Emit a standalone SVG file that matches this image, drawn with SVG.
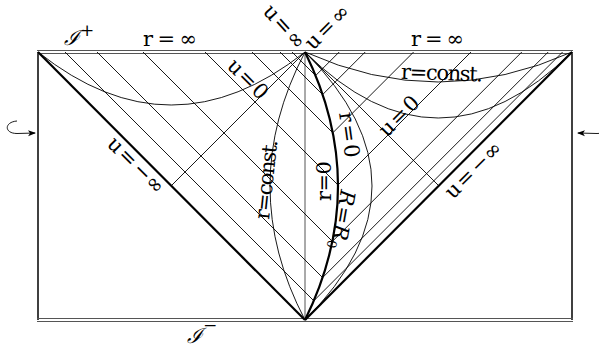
<svg xmlns="http://www.w3.org/2000/svg" width="599" height="349" viewBox="0 0 599 349">
<style>
.t{font-family:"DejaVu Serif","Liberation Serif",serif;font-size:21px;fill:#000}
.thin{fill:none;stroke:#000;stroke-width:0.9}
.thick{fill:none;stroke:#000;stroke-width:2.2}
.gray{fill:none;stroke:#555;stroke-width:1}
.dbl{stroke:#555;stroke-width:1.2}
</style>
<defs>
<marker id="ah" markerWidth="8" markerHeight="8" refX="7" refY="4" orient="auto" markerUnits="userSpaceOnUse">
<path d="M0,1 L8,4 L0,7 L2,4 Z" fill="#000"/>
</marker>
</defs>
<g id="frame">
<line x1="38" y1="52" x2="38" y2="320" stroke="#000" stroke-width="1.5"/>
<line x1="572" y1="52" x2="572" y2="320" stroke="#000" stroke-width="1.5"/>
<line class="dbl" x1="37" y1="50.5" x2="573" y2="50.5"/>
<line class="dbl" x1="37" y1="53.5" x2="573" y2="53.5"/>
<line class="dbl" x1="37" y1="318.5" x2="573" y2="318.5"/>
<line class="dbl" x1="37" y1="321.5" x2="573" y2="321.5"/>
</g>
<g id="connectors">
<line class="thick" x1="38" y1="52" x2="305" y2="320"/>
<line class="thick" x1="305" y1="320" x2="572" y2="52"/>
<line class="gray" x1="305" y1="52" x2="305" y2="320"/>
<path class="thick" d="M305,52 Q371,186 305,320" stroke-width="2"/>
<path class="thin" d="M305,52 Q235,186 305,320"/>
<path class="thin" d="M305,52 Q439,186 305,320"/>
<path class="thin" d="M38,52 Q171,158 305,52"/>
<path class="thin" d="M305,52 Q438,112 572,52"/>
<path class="thin" d="M305,52 Q438,184 572,52"/>
<polyline class="thin" points="65,52 313.8,300.8 562.6,52"/>
<polyline class="thin" points="97,52 322.6,277.6 548.2,52"/>
<polyline class="thin" points="143,52 332.4,241.4 521.8,52"/>
<polyline class="thin" points="205,52 338,185 471,52"/>
<polyline class="thin" points="252,52 332.8,132.8 413.6,52"/>
<polyline class="thin" points="280,52 322.6,94.6 365.2,52"/>
<polyline class="thin" points="292,52 315.6,75.6 339.2,52"/>
<line class="thin" x1="305" y1="52" x2="171.5" y2="185.5"/>
<line class="thin" x1="305" y1="52" x2="438.5" y2="185.5"/>
<path class="thin" d="M17,121 C4,122 4,133.5 17,133.5 L35,133" marker-end="url(#ah)"/>
<path class="thin" d="M600,121 C612,122 611,133.5 597,133.5 L578,133" marker-end="url(#ah)"/>
</g>
<g id="labels">
<text class="t" x="64" y="45" font-size="26" font-style="italic" font-family="Liberation Serif,serif">ℐ<tspan dy="-9" font-size="17" font-style="normal">+</tspan></text>
<text class="t" x="187" y="343" font-size="26" font-style="italic" font-family="Liberation Serif,serif">ℐ<tspan dy="-12" font-size="17" font-style="normal">−</tspan></text>
<text class="t" x="143" y="46" font-size="22" textLength="54" lengthAdjust="spacing">r=∞</text>
<text class="t" x="411" y="46" font-size="22" textLength="53" lengthAdjust="spacing">r=∞</text>
<text class="t" x="401" y="80" font-size="19" textLength="82" lengthAdjust="spacing" transform="rotate(2 440 75)">r=const.</text>
<text class="t" transform="translate(226,67) rotate(45)" textLength="48" lengthAdjust="spacing">u=0</text>
<text class="t" transform="translate(106,145) rotate(45)" font-size="22">u<tspan dx="2">=</tspan><tspan dx="3">−∞</tspan></text>
<text class="t" transform="translate(262,12) rotate(48)" textLength="52" lengthAdjust="spacing">u=∞</text>
<text class="t" transform="translate(313,51) rotate(-45)" textLength="54" lengthAdjust="spacing">u=∞</text>
<text class="t" transform="translate(387,138) rotate(-45)" textLength="48" lengthAdjust="spacing">u=0</text>
<text class="t" transform="translate(453,200) rotate(-45)" font-size="22">u<tspan dx="2">=</tspan><tspan dx="3">−∞</tspan></text>
<text class="t" transform="translate(269,220) rotate(-84)" font-size="20" textLength="80" lengthAdjust="spacing">r=const.</text>
<text class="t" transform="translate(331,201) rotate(-90)" font-size="20" textLength="40" lengthAdjust="spacing">r=0</text>
<text class="t" transform="translate(339,113) rotate(82)" font-size="20" textLength="46" lengthAdjust="spacing">r=0</text>
<text class="t" transform="translate(341,189) rotate(100)" font-size="20" textLength="60" lengthAdjust="spacing"><tspan font-style="italic">R</tspan>=<tspan font-style="italic">R</tspan><tspan font-size="13" dy="4">0</tspan></text>
</g>
</svg>
